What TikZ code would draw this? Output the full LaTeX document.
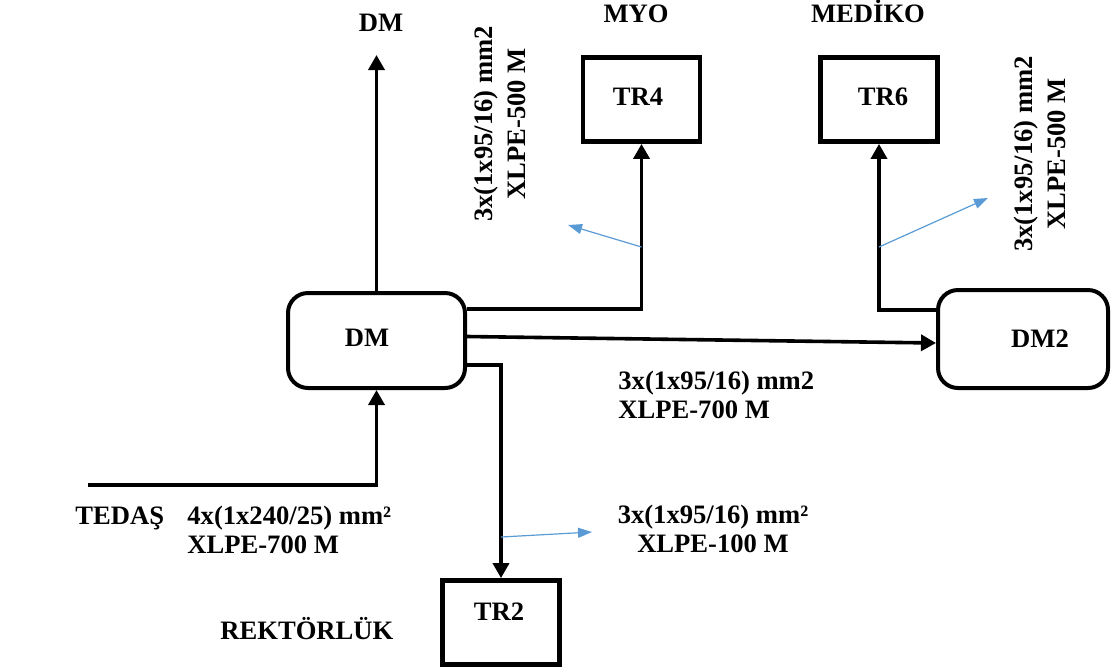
\documentclass[tikz,border=0pt]{standalone}
\usepackage{fontspec}
\setmainfont{Liberation Serif}
\usetikzlibrary{arrows.meta,positioning,calc}

\begin{document}
\begin{tikzpicture}[x=0.5pt,y=-0.5pt,
  font=\bfseries\fontsize{13.3}{14.2}\selectfont,
  wire/.style={line width=1.8pt,-{Triangle[length=7.5pt,width=8pt]}},
  callout/.style={draw=calloutblue,line width=0.6pt,-{Triangle[length=7pt,width=5pt]}},
  dmbox/.style={draw,line width=2pt,rounded corners=10pt,inner sep=0pt},
  trbox/.style={draw,line width=2.4pt,inner sep=0pt,minimum width=58.5pt,minimum height=42pt},
  lbl/.style={inner sep=0pt},
  vlbl/.style={inner sep=0pt,rotate=90,align=center,font=\bfseries\fontsize{13.3}{16.5}\selectfont}]
  \definecolor{calloutblue}{RGB}{91,155,213}
  \useasboundingbox (0,0) rectangle (1112,671);
  % boxes
  \node[dmbox,minimum width=88.5pt,minimum height=47.5pt] (dm) at (376.5,340.5) {};
  \node[dmbox,minimum width=85pt,minimum height=49pt] (dm2) at (1023,339) {};
  \node[trbox] (tr4) at (641.5,99.5) {};
  \node[trbox] (tr6) at (879,99.5) {};
  \node[trbox] (tr2) at (501,622.5) {};
  % box texts
  \node[lbl,anchor=base] (dmtxt) at (367,346.5) {DM};
  \node[lbl,anchor=base] (dm2txt) at (1040,347.5) {DM2};
  \node[lbl,anchor=base] (tr4txt) at (638,105.5) {TR4};
  \node[lbl,anchor=base] (tr6txt) at (883,105.5) {TR6};
  \node[lbl,anchor=base] (tr2txt) at (499,620.5) {TR2};
  % names
  \node[lbl,anchor=base] (dmtop) at (381,31.5) {DM};
  \node[lbl,anchor=base] (myo) at (636,22.5) {MYO};
  \node[lbl,anchor=base] (mediko) at (868,22.5) {MEDİKO};
  \node[lbl,anchor=base west] (tedas) at (75,524) {TEDAŞ};
  \node[lbl,anchor=base west] (rektorluk) at (220,639) {REKTÖRLÜK};
  % cable labels
  \node[lbl,anchor=west,align=left] (cfeed) at (187,530) {4x(1x240/25) mm²\\XLPE-700 M};
  \node[lbl,anchor=west,align=left] (cdm2) at (618,395) {3x(1x95/16) mm2\\XLPE-700 M};
  \node[lbl,align=center] (ctr2) at (713,529) {3x(1x95/16) mm²\\XLPE-100 M};
  \node[vlbl] (ctr4) at (500,124) {3x(1x95/16) mm2\\XLPE-500 M};
  \node[vlbl] (ctr6) at (1040,154) {3x(1x95/16) mm2\\XLPE-500 M};
  % connectors
  \coordinate (dmup) at (376.5,55);
  \coordinate (feed) at (88,485);
  \draw[wire] (dm.north) -- (dmup);
  \draw[wire] (feed) -| (dm.south);
  \draw[wire] ($(dm.east)+(0,-31.5)$) -| (tr4.south);
  \draw[wire] ($(dm.east)+(0,-4)$) -- ($(dm2.west)+(0,4)$);
  \draw[wire] ($(dm.east)+(0,24.5)$) -| (tr2.north);
  \draw[wire] ($(dm2.west)+(0,-29)$) -| (tr6.south);
  % blue pointers
  \coordinate (p4a) at (641.5,247);
  \coordinate (p4b) at (568,225);
  \coordinate (p6a) at (879,247);
  \coordinate (p6b) at (988,198);
  \coordinate (p2a) at (501,537);
  \coordinate (p2b) at (592,532);
  \draw[callout] (p4a) -- (p4b);
  \draw[callout] (p6a) -- (p6b);
  \draw[callout] (p2a) -- (p2b);
\end{tikzpicture}
\end{document}
